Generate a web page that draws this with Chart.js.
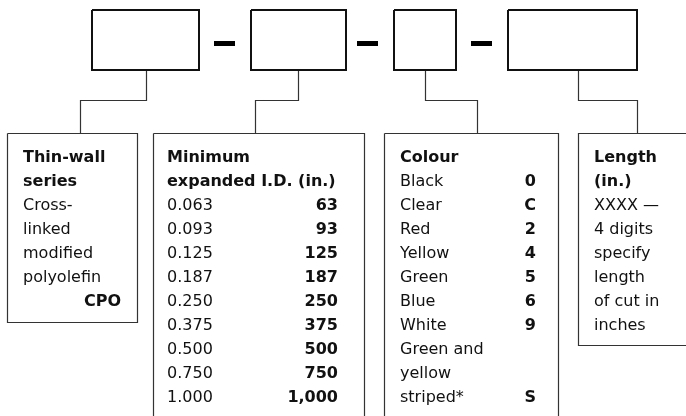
<!DOCTYPE html>
<html>
<head>
<meta charset="utf-8">
<script src="https://cdn.jsdelivr.net/npm/chart.js@4"></script>
<style>
  html, body { margin: 0; padding: 0; background: #fff; }
  #wrap { width: 686px; height: 416px; }
</style>
</head>
<body>
<div id="wrap"><canvas id="code"></canvas></div>
<script>
// Text content of the four legend boxes
const seriesLines = ['Cross-', 'linked', 'modified', 'polyolefin'];
const seriesCode = 'CPO';
const idSizes = ['0.063', '0.093', '0.125', '0.187', '0.250', '0.375', '0.500', '0.750', '1.000'];
const idCodes = ['63', '93', '125', '187', '250', '375', '500', '750', '1,000'];
const colourNames = ['Black', 'Clear', 'Red', 'Yellow', 'Green', 'Blue', 'White', 'Green and', 'yellow', 'striped*'];
const colourCodes = ['0', 'C', '2', '4', '5', '6', '9', '', '', 'S'];
const lengthLines = ['XXXX \u2014', '4 digits', 'specify', 'length', 'of cut in', 'inches'];

// Layout of the diagram (pixel-like units on hidden 0..686 / 0..416 axes)
const topBoxes = [[92, 199], [251, 346], [394, 456], [508, 637]];
const dashes = [[214, 235], [357, 378], [471, 492]];
const connectors = [[146, 80], [298, 255], [425, 477], [578, 637]];
const lowBoxes = [
  { x0: 7, x1: 137, y1: 322, right: true },
  { x0: 153, x1: 364, y1: 420, right: true },
  { x0: 384, x1: 558, y1: 420, right: true },
  { x0: 578, x1: 690, y1: 345, right: false }
];

const FONT = '"DejaVu Sans", Verdana, sans-serif';
const SIZE = 16;
const LINE = 24, BASE = 162;

function rect(x0, y0, x1, y1) {
  return [{x: x0, y: y0}, {x: x1, y: y0}, {x: x1, y: y1}, {x: x0, y: y1}, {x: x0, y: y0}];
}

const datasets = [];
topBoxes.forEach(b => datasets.push({
  data: rect(b[0], 10, b[1], 70), borderColor: '#111', borderWidth: 2
}));
dashes.forEach(d => datasets.push({
  data: [{x: d[0], y: 43.5}, {x: d[1], y: 43.5}], borderColor: '#000', borderWidth: 5
}));
connectors.forEach(c => datasets.push({
  data: [{x: c[0] + 0.5, y: 70}, {x: c[0] + 0.5, y: 100.5}, {x: c[1] + 0.5, y: 100.5}, {x: c[1] + 0.5, y: 133}],
  borderColor: '#333', borderWidth: 1.2
}));
lowBoxes.forEach(b => datasets.push({
  data: b.right ? rect(b.x0 + 0.5, 133.5, b.x1 + 0.5, b.y1 + 0.5)
    : [{x: b.x1, y: 133.5}, {x: b.x0 + 0.5, y: 133.5}, {x: b.x0 + 0.5, y: b.y1 + 0.5}, {x: b.x1, y: b.y1 + 0.5}],
  borderColor: '#333', borderWidth: 1.2
}));
datasets.forEach(d => { d.showLine = true; d.pointRadius = 0; d.fill = false; d.tension = 0; });

// Draws the box texts after the outlines
const textPlugin = {
  id: 'boxText',
  afterDatasetsDraw(chart) {
    const {ctx, scales: {x, y}} = chart;
    const put = (txt, px, row, bold, align) => {
      ctx.font = (bold ? '700 ' : '400 ') + SIZE + 'px ' + FONT;
      ctx.textAlign = align || 'left';
      ctx.fillText(txt, x.getPixelForValue(px), y.getPixelForValue(BASE + row * LINE));
    };
    ctx.save();
    ctx.fillStyle = '#111';
    ctx.textBaseline = 'alphabetic';

    put('Thin-wall', 23, 0, true);
    put('series', 23, 1, true);
    seriesLines.forEach((t, i) => put(t, 23, i + 2));
    put(seriesCode, 121, 6, true, 'right');

    put('Minimum', 167, 0, true);
    put('expanded I.D. (in.)', 167, 1, true);
    idSizes.forEach((t, i) => put(t, 167, i + 2));
    idCodes.forEach((t, i) => put(t, 338, i + 2, true, 'right'));

    put('Colour', 400, 0, true);
    colourNames.forEach((t, i) => put(t, 400, i + 1));
    colourCodes.forEach((t, i) => put(t, 536, i + 1, true, 'right'));

    put('Length', 594, 0, true);
    put('(in.)', 594, 1, true);
    lengthLines.forEach((t, i) => put(t, 594, i + 2));
    ctx.restore();
  }
};

new Chart(document.getElementById('code'), {
  type: 'scatter',
  data: { datasets },
  options: {
    responsive: true,
    maintainAspectRatio: false,
    animation: false,
    layout: { padding: 0 },
    plugins: { legend: { display: false }, tooltip: { enabled: false } },
    scales: {
      x: { type: 'linear', min: 0, max: 686, display: false },
      y: { type: 'linear', min: 0, max: 416, reverse: true, display: false }
    },
    elements: { line: { capBezierPoints: false, borderCapStyle: 'butt', borderJoinStyle: 'miter' } }
  },
  plugins: [textPlugin]
});
</script>
</body>
</html>
